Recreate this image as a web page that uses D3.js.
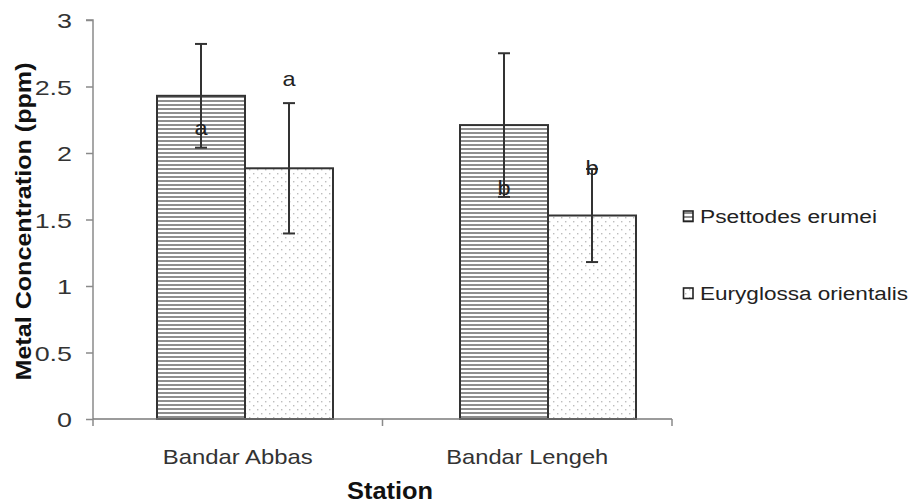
<!DOCTYPE html>
<html><head><meta charset="utf-8">
<script src="https://cdn.jsdelivr.net/npm/d3@7"></script>
<style>body{margin:0;background:#fff}svg{font-family:"Liberation Sans",Arial,sans-serif}</style>
</head><body><svg id="c" width="912" height="503"></svg>
<script>
const stations = ["Bandar Abbas", "Bandar Lengeh"];
const seriesNames = ["Psettodes erumei", "Euryglossa orientalis"];
const psettodes = [2.43, 2.21];
const psettodesErr = [0.39, 0.54];
const euryglossa = [1.885, 1.53];
const euryglossaErr = [0.49, 0.35];
const letters = [["a", "a"], ["b", "b"]]; // per station: [Psettodes, Euryglossa]
const yTicks = [0, 0.5, 1, 1.5, 2, 2.5, 3];

const svg = d3.select("#c");
const W = 912, H = 503;
const m = {l: 93, r: 240, t: 20, b: 84};
const x0 = d3.scaleBand().domain(stations).range([m.l, W - m.r]).padding(0);   // axis bands
const xc = d3.scalePoint().domain(stations).range([245, 548]);                  // bar group centres
const bw = 88;
const x1 = d3.scaleBand().domain(seriesNames).range([-bw, bw]).padding(0);
const y = d3.scaleLinear().domain([0, 3]).range([H - m.b, m.t]);

function stretch(sel, k) {
  sel.each(function () {
    const len = this.getComputedTextLength();
    d3.select(this).attr("textLength", len * k).attr("lengthAdjust", "spacingAndGlyphs");
  });
}
function fitTo(sel, w) { sel.attr("textLength", w).attr("lengthAdjust", "spacingAndGlyphs"); }

const defs = svg.append("defs");
const ph = defs.append("pattern").attr("id", "hatch").attr("patternUnits", "userSpaceOnUse").attr("width", 8).attr("height", 4);
ph.append("rect").attr("width", 8).attr("height", 4).attr("fill", "#fff");
ph.append("rect").attr("width", 8).attr("height", 2).attr("fill", "#8f8f8f");
const pd = defs.append("pattern").attr("id", "dots").attr("patternUnits", "userSpaceOnUse").attr("width", 8).attr("height", 8);
pd.append("rect").attr("width", 8).attr("height", 8).attr("fill", "#fff");
pd.append("rect").attr("x", 1).attr("y", 1).attr("width", 1.4).attr("height", 1.4).attr("fill", "#bdbdbd");
pd.append("rect").attr("x", 5).attr("y", 5).attr("width", 1.4).attr("height", 1.4).attr("fill", "#bdbdbd");
const fills = ["url(#hatch)", "url(#dots)"];

const data = [];
stations.forEach((s, i) => {
  data.push({s, k: seriesNames[0], v: psettodes[i], e: psettodesErr[i], lab: letters[i][0]});
  data.push({s, k: seriesNames[1], v: euryglossa[i], e: euryglossaErr[i], lab: letters[i][1]});
});
const bx = d => xc(d.s) + x1(d.k);
const cx = d => bx(d) + x1.bandwidth() / 2;

// y axis
const yAxis = d3.axisLeft(y).tickValues(yTicks).tickSize(7).tickPadding(14).tickFormat(d3.format(""));
const gy = svg.append("g").attr("transform", `translate(${m.l},0)`).call(yAxis);
gy.selectAll("path,line").attr("stroke", "#8a8a8a").attr("stroke-width", 1.5);
gy.select("path").attr("d", `M-7,${y(3)}H0V${y(0)}`);
gy.selectAll("text").attr("font-size", 21).attr("fill", "#333").attr("dy", "0.36em")
  .attr("font-family", "Liberation Sans, Arial, sans-serif");
stretch(gy.selectAll("text"), 1.28);

// bars
svg.append("g").selectAll("rect").data(data).join("rect")
  .attr("x", bx).attr("y", d => y(d.v))
  .attr("width", x1.bandwidth()).attr("height", d => y(0) - y(d.v))
  .attr("fill", d => fills[seriesNames.indexOf(d.k)])
  .attr("stroke", "#333").attr("stroke-width", 2);

// x axis
const xAxis = d3.axisBottom(x0).tickSize(0).tickFormat("");
const gx = svg.append("g").attr("transform", `translate(0,${y(0)})`).call(xAxis);
gx.select("path").attr("stroke", "#7a7a7a").attr("stroke-width", 1.5).attr("d", `M${m.l},0H${W - m.r}`);
const bounds = [x0(stations[0]), x0(stations[1]), x0(stations[1]) + x0.bandwidth()];
svg.append("g").selectAll("line").data(bounds).join("line")
  .attr("x1", d => d).attr("x2", d => d).attr("y1", y(0)).attr("y2", y(0) + 7)
  .attr("stroke", "#8a8a8a").attr("stroke-width", 1.5);
const catLab = svg.append("g").selectAll("text").data(stations).join("text")
  .attr("x", d => x0(d) + x0.bandwidth() / 2).attr("y", y(0) + 45)
  .attr("text-anchor", "middle").attr("font-size", 21).attr("fill", "#333").text(d => d);
catLab.each(function (d, i) { d3.select(this).attr("textLength", [150, 162][i]).attr("lengthAdjust", "spacingAndGlyphs"); });

// error bars
const eb = svg.append("g").attr("stroke", "#333").attr("stroke-width", 2);
data.forEach(d => {
  const c = cx(d);
  eb.append("line").attr("x1", c).attr("x2", c).attr("y1", y(d.v + d.e)).attr("y2", y(d.v - d.e));
  eb.append("line").attr("x1", c - 6).attr("x2", c + 6).attr("y1", y(d.v + d.e)).attr("y2", y(d.v + d.e));
  eb.append("line").attr("x1", c - 6).attr("x2", c + 6).attr("y1", y(d.v - d.e)).attr("y2", y(d.v - d.e));
});

// significance letters (placed relative to the error bar ends)
const letterAnchor = [{end: -1, off: -13}, {end: 1, off: -17}, {end: -1, off: -2}, {end: 1, off: 6}];
const lt = svg.append("g").selectAll("text").data(data).join("text")
  .attr("x", cx)
  .attr("y", (d, i) => y(d.v + letterAnchor[i].end * d.e) + letterAnchor[i].off)
  .attr("text-anchor", "middle").attr("font-size", 21).attr("fill", "#222").text(d => d.lab);
stretch(lt, 1.12);

// axis titles
const yt = svg.append("text").attr("transform", `translate(31,${(y(0) + y(3)) / 2 + 2}) rotate(-90)`)
  .attr("text-anchor", "middle").attr("font-size", 22).attr("font-weight", "bold").attr("fill", "#111")
  .text("Metal Concentration (ppm)");
fitTo(yt, 318);
const st = svg.append("text").attr("x", 390).attr("y", 499).attr("text-anchor", "middle")
  .attr("font-size", 24).attr("font-weight", "bold").attr("fill", "#111").text("Station");
fitTo(st, 86);

// legend
const lg = svg.append("g");
const legW = [177, 208];
seriesNames.forEach((n, i) => {
  const ly = 223 + i * 77;
  lg.append("rect").attr("x", 683.5).attr("y", ly - 12).attr("width", 9.5).attr("height", 10.5)
    .attr("fill", fills[i]).attr("stroke", "#222").attr("stroke-width", 1.6);
  const t = lg.append("text").attr("x", 700).attr("y", ly).attr("font-size", 18).attr("fill", "#222").text(n);
  fitTo(t, legW[i]);
});
</script></body></html>
